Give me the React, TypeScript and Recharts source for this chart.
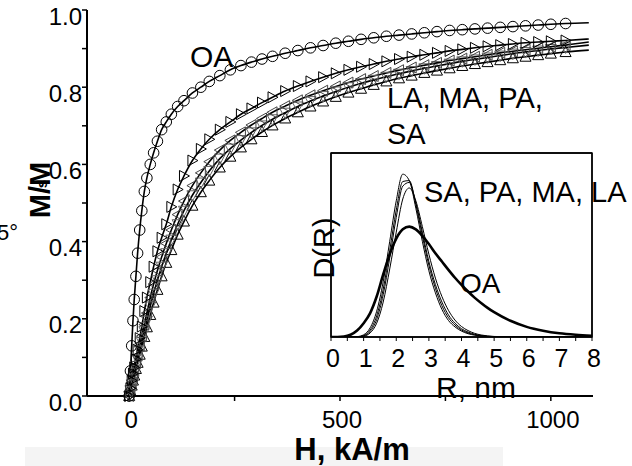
import React from "react";
import { LineChart, Line, XAxis, YAxis, ReferenceArea } from "recharts";

// magnetisation curves, H in kA/m
const hField = [0, 3, 6, 9, 12, 16, 20, 25, 30, 36, 42, 50, 58, 67, 77, 88, 100, 115, 130, 150, 170, 190, 215, 240, 265, 290, 315, 340, 370, 400, 430, 460, 490, 520, 550, 580, 610, 640, 670, 700, 730, 760, 790, 820, 850, 880, 910, 940, 970, 1000, 1035, 1090];
const oaM = [0, 0.065, 0.13, 0.195, 0.25, 0.31, 0.37, 0.43, 0.48, 0.53, 0.565, 0.6, 0.63, 0.66, 0.69, 0.71, 0.73, 0.75, 0.765, 0.785, 0.8, 0.815, 0.83, 0.845, 0.856, 0.865, 0.873, 0.88, 0.888, 0.895, 0.902, 0.908, 0.914, 0.919, 0.924, 0.928, 0.932, 0.935, 0.938, 0.941, 0.944, 0.947, 0.949, 0.951, 0.953, 0.955, 0.957, 0.959, 0.961, 0.963, 0.965, 0.967];
const laM = [0, 0.02, 0.04, 0.058, 0.074, 0.095, 0.12, 0.15, 0.18, 0.22, 0.255, 0.295, 0.335, 0.375, 0.41, 0.445, 0.49, 0.535, 0.57, 0.61, 0.64, 0.665, 0.69, 0.71, 0.73, 0.745, 0.76, 0.774, 0.79, 0.803, 0.815, 0.826, 0.836, 0.845, 0.853, 0.86, 0.867, 0.873, 0.879, 0.884, 0.889, 0.894, 0.898, 0.902, 0.906, 0.909, 0.912, 0.915, 0.917, 0.919, 0.921, 0.925];
const maM = [0, 0.017, 0.034, 0.05, 0.065, 0.085, 0.105, 0.13, 0.155, 0.185, 0.215, 0.255, 0.29, 0.325, 0.36, 0.395, 0.43, 0.47, 0.505, 0.545, 0.578, 0.607, 0.637, 0.662, 0.683, 0.702, 0.719, 0.735, 0.751, 0.766, 0.779, 0.791, 0.802, 0.812, 0.821, 0.829, 0.837, 0.844, 0.851, 0.857, 0.863, 0.869, 0.874, 0.879, 0.884, 0.889, 0.893, 0.897, 0.901, 0.905, 0.909, 0.917];
const paM = [0, 0.015, 0.03, 0.045, 0.06, 0.078, 0.095, 0.118, 0.14, 0.168, 0.195, 0.232, 0.265, 0.3, 0.335, 0.37, 0.405, 0.445, 0.48, 0.52, 0.553, 0.583, 0.615, 0.641, 0.663, 0.683, 0.701, 0.717, 0.734, 0.75, 0.764, 0.777, 0.789, 0.8, 0.81, 0.819, 0.827, 0.835, 0.842, 0.849, 0.855, 0.861, 0.867, 0.872, 0.877, 0.882, 0.887, 0.891, 0.895, 0.899, 0.903, 0.909];
const saM = [0, 0.013, 0.027, 0.04, 0.053, 0.07, 0.086, 0.107, 0.128, 0.153, 0.178, 0.21, 0.242, 0.275, 0.31, 0.345, 0.378, 0.418, 0.452, 0.493, 0.528, 0.558, 0.592, 0.62, 0.644, 0.665, 0.684, 0.701, 0.719, 0.735, 0.75, 0.763, 0.775, 0.786, 0.796, 0.806, 0.815, 0.823, 0.83, 0.837, 0.843, 0.849, 0.855, 0.86, 0.865, 0.87, 0.875, 0.879, 0.883, 0.887, 0.891, 0.896];

const hTicks = [0, 250, 500, 750, 1000];
const hLabels = ["0", "", "500", "", "1000"];
const mTicks = [0, 0.1, 0.2, 0.3, 0.4, 0.5, 0.6, 0.7, 0.8, 0.9, 1.0];
const mLabels = ["0.0", "", "0.2", "", "0.4", "", "0.6", "", "0.8", "", "1.0"];

// size distributions D(R), R in nm
const rGrid = [0, 0.2, 0.4, 0.6, 0.8, 1.0, 1.2, 1.4, 1.6, 1.8, 2.0, 2.2, 2.4, 2.6, 2.8, 3.0, 3.2, 3.4, 3.6, 3.8, 4.0, 4.2, 4.4, 4.6, 4.8, 5.0, 5.5, 6, 6.5, 7, 7.5, 8];
const dOA = [0, 0, 0.002, 0.012, 0.035, 0.075, 0.13, 0.22, 0.34, 0.45, 0.535, 0.585, 0.6, 0.585, 0.55, 0.505, 0.455, 0.41, 0.365, 0.322, 0.283, 0.247, 0.214, 0.185, 0.158, 0.135, 0.088, 0.055, 0.034, 0.02, 0.012, 0.007];
const dSA = [0, 0, 0, 0, 0.002, 0.012, 0.05, 0.14, 0.3, 0.52, 0.74, 0.885, 0.85, 0.7, 0.52, 0.36, 0.24, 0.15, 0.09, 0.055, 0.032, 0.018, 0.01, 0.005, 0.002, 0.001, 0, 0, 0, 0, 0, 0];
const dPA = [0, 0, 0, 0, 0.001, 0.008, 0.038, 0.115, 0.26, 0.47, 0.69, 0.845, 0.85, 0.72, 0.55, 0.39, 0.265, 0.17, 0.105, 0.065, 0.038, 0.022, 0.012, 0.006, 0.003, 0.001, 0, 0, 0, 0, 0, 0];
const dMA = [0, 0, 0, 0, 0.001, 0.006, 0.03, 0.095, 0.23, 0.43, 0.65, 0.82, 0.84, 0.73, 0.57, 0.41, 0.285, 0.19, 0.12, 0.075, 0.045, 0.027, 0.015, 0.008, 0.004, 0.002, 0, 0, 0, 0, 0, 0];
const dLA = [0, 0, 0, 0, 0, 0.004, 0.022, 0.075, 0.19, 0.37, 0.57, 0.75, 0.81, 0.74, 0.6, 0.45, 0.32, 0.22, 0.145, 0.092, 0.057, 0.035, 0.02, 0.011, 0.006, 0.003, 0.001, 0, 0, 0, 0, 0];

const rTicks = [0, 0.5, 1, 1.5, 2, 2.5, 3, 3.5, 4, 4.5, 5, 5.5, 6, 6.5, 7, 7.5, 8];
const rLabels = ["0", "", "1", "", "2", "", "3", "", "4", "", "5", "", "6", "", "7", "", "8"];
const dTicks = [0, 0.06, 0.12, 0.18, 0.24, 0.3, 0.36, 0.42, 0.48, 0.54, 0.6, 0.66, 0.72, 0.78, 0.84, 0.9, 0.96];

const FONT = "'Liberation Sans', Arial, sans-serif";
const lastIdx = hField.length - 1;

const curveRows = hField.map((h, i) => ({ h, oa: oaM[i], la: laM[i], ma: maM[i], pa: paM[i], sa: saM[i] }));
const distRows = rGrid.map((r, i) => ({ r, oa: dOA[i], sa: dSA[i], pa: dPA[i], ma: dMA[i], la: dLA[i] }));

function marker(kind: string, color: string) {
  return (p: any) => {
    const { cx, cy, index } = p;
    if (index === lastIdx || cx == null) return <g key={`m${kind}${index}`} />;
    const k = `m${kind}${index}`;
    const s = { fill: "none", stroke: color, strokeWidth: 1 };
    if (kind === "circle") return <circle key={k} cx={cx} cy={cy} r={5.3} {...s} />;
    let pts = "";
    if (kind === "right") pts = `${cx - 4.5},${cy - 5.5} ${cx + 5.5},${cy} ${cx - 4.5},${cy + 5.5}`;
    if (kind === "left") pts = `${cx + 4.5},${cy - 5.5} ${cx - 5.5},${cy} ${cx + 4.5},${cy + 5.5}`;
    if (kind === "up") pts = `${cx},${cy - 6} ${cx + 5.5},${cy + 4.5} ${cx - 5.5},${cy + 4.5}`;
    if (kind === "down") pts = `${cx},${cy + 6} ${cx + 5.5},${cy - 4.5} ${cx - 5.5},${cy - 4.5}`;
    return <polygon key={k} points={pts} {...s} />;
  };
}

const labelOf = (ticks: number[], labels: string[], v: number) => {
  const i = ticks.findIndex((t) => Math.abs(t - v) < 1e-6);
  return i < 0 ? "" : labels[i];
};

const HTick = (p: any) => (
  <text x={p.x + 2} y={p.y} dy="0.72em" textAnchor="middle" fontSize={24} fontFamily={FONT} fill="#000">
    {labelOf(hTicks, hLabels, p.payload.value)}
  </text>
);
const MTick = (p: any) => (
  <text x={p.x} y={p.y + 6} dy="0.36em" textAnchor="end" fontSize={24} fontFamily={FONT} fill="#000">
    {labelOf(mTicks, mLabels, p.payload.value)}
  </text>
);
const RTick = (p: any) => (
  <text x={p.x + 2} y={p.y} dy="0.72em" textAnchor="middle" fontSize={25} fontFamily={FONT} fill="#000">
    {labelOf(rTicks, rLabels, p.payload.value)}
  </text>
);

const txt = { fontFamily: FONT, fill: "#000" };

export default function App() {
  return (
    <div style={{ position: "absolute", left: 0, top: 0, width: 632, height: 466, background: "#fff" }}>
      <svg width={632} height={466} style={{ position: "absolute", left: 0, top: 0 }}>
        <rect x={25} y={447} width={478} height={19} fill="#f4f4f4" />
      </svg>

      <div style={{ position: "absolute", left: 0, top: 0 }}>
        <LineChart width={632} height={466} data={curveRows} margin={{ top: 10, right: 39, bottom: 40, left: 37 }}>
          <XAxis
            dataKey="h"
            type="number"
            domain={[-100, 1100]}
            ticks={hTicks}
            interval={0}
            tick={HTick}
            tickSize={5}
            tickMargin={10}
            height={30}
            axisLine={{ stroke: "#000", strokeWidth: 2 }}
            tickLine={{ stroke: "#000", strokeWidth: 1.5 }}
          />
          <YAxis
            type="number"
            domain={[0, 1]}
            ticks={mTicks}
            interval={0}
            tick={MTick}
            tickSize={5}
            tickMargin={0}
            width={50}
            axisLine={{ stroke: "#000", strokeWidth: 2 }}
            tickLine={{ stroke: "#000", strokeWidth: 1.5 }}
          />
          <Line dataKey="sa" type="monotone" stroke="#000" strokeWidth={1.6} dot={marker("up", "#000")} isAnimationActive={false} />
          <Line dataKey="pa" type="monotone" stroke="#000" strokeWidth={1.6} dot={marker("down", "#666")} isAnimationActive={false} />
          <Line dataKey="ma" type="monotone" stroke="#000" strokeWidth={1.6} dot={marker("left", "#444")} isAnimationActive={false} />
          <Line dataKey="la" type="monotone" stroke="#000" strokeWidth={1.6} dot={marker("right", "#000")} isAnimationActive={false} />
          <Line dataKey="oa" type="monotone" stroke="#000" strokeWidth={1.6} dot={marker("circle", "#000")} isAnimationActive={false} />
        </LineChart>
      </div>

      <div style={{ position: "absolute", left: 0, top: 0 }}>
        <LineChart width={632} height={466} data={distRows} margin={{ top: 153, right: 40, bottom: 89, left: 331 }}>
          <XAxis
            xAxisId="b"
            dataKey="r"
            type="number"
            domain={[0, 8]}
            allowDataOverflow
            ticks={rTicks}
            interval={0}
            tick={RTick}
            tickSize={4}
            tickMargin={8}
            height={40}
            axisLine={{ stroke: "#000", strokeWidth: 1.4 }}
            tickLine={{ stroke: "#000" }}
          />
          <XAxis
            xAxisId="t"
            dataKey="r"
            orientation="top"
            type="number"
            domain={[0, 8]}
            allowDataOverflow
            ticks={rTicks}
            interval={0}
            tick={false}
            mirror
            tickSize={3}
            height={1}
            axisLine={{ stroke: "#000", strokeWidth: 1.4 }}
            tickLine={{ stroke: "#000" }}
          />
          <YAxis
            yAxisId="l"
            type="number"
            domain={[0, 1]}
            allowDataOverflow
            ticks={dTicks}
            interval={0}
            tick={false}
            mirror
            tickSize={3}
            width={1}
            axisLine={{ stroke: "#000", strokeWidth: 1.4 }}
            tickLine={{ stroke: "#000" }}
          />
          <YAxis
            yAxisId="r"
            orientation="right"
            type="number"
            domain={[0, 1]}
            allowDataOverflow
            ticks={dTicks}
            interval={0}
            tick={false}
            mirror
            tickSize={3}
            width={1}
            axisLine={{ stroke: "#000", strokeWidth: 1.4 }}
            tickLine={{ stroke: "#000" }}
          />
          <ReferenceArea xAxisId="b" yAxisId="l" x1={0} x2={8} y1={0} y2={1} fill="none" stroke="#000" strokeWidth={1.4} ifOverflow="visible" />
          <Line xAxisId="t" yAxisId="r" dataKey="oa" stroke="none" dot={false} activeDot={false} isAnimationActive={false} />
          <Line xAxisId="b" yAxisId="l" dataKey="la" type="monotone" stroke="#000" strokeWidth={1} dot={false} isAnimationActive={false} />
          <Line xAxisId="b" yAxisId="l" dataKey="ma" type="monotone" stroke="#000" strokeWidth={1} dot={false} isAnimationActive={false} />
          <Line xAxisId="b" yAxisId="l" dataKey="pa" type="monotone" stroke="#000" strokeWidth={1} dot={false} isAnimationActive={false} />
          <Line xAxisId="b" yAxisId="l" dataKey="sa" type="monotone" stroke="#000" strokeWidth={1} dot={false} isAnimationActive={false} />
          <Line xAxisId="b" yAxisId="l" dataKey="oa" type="monotone" stroke="#000" strokeWidth={2.6} dot={false} isAnimationActive={false} />
        </LineChart>
      </div>

      <svg width={632} height={466} style={{ position: "absolute", left: 0, top: 0, pointerEvents: "none" }}>
        <text x={-3} y={240} fontSize={22} {...txt}>5°</text>
        <text transform="rotate(-90 50 190)" x={50} y={190} textAnchor="middle" fontSize={29} fontWeight="bold" {...txt}>M/M</text>
        <text transform="rotate(-90 47 184)" x={47} y={184} textAnchor="middle" fontSize={15} fontWeight="bold" {...txt}>s</text>
        <text x={352} y={460} textAnchor="middle" fontSize={31} fontWeight="bold" {...txt}>H, kA/m</text>
        <text x={190} y={67} fontSize={30} {...txt}>OA</text>
        <text x={387} y={108} fontSize={29} {...txt}>LA, MA, PA,</text>
        <text x={387} y={144} fontSize={29} {...txt}>SA</text>
        <text x={424} y={202} fontSize={29} {...txt}>SA, PA, MA, LA</text>
        <text x={460} y={293} fontSize={28} {...txt}>OA</text>
        <text x={476} y={398} textAnchor="middle" fontSize={30} {...txt}>R, nm</text>
        <text transform="rotate(-90 334 248)" x={334} y={248} textAnchor="middle" fontSize={29} {...txt}>D(R)</text>
      </svg>
    </div>
  );
}
